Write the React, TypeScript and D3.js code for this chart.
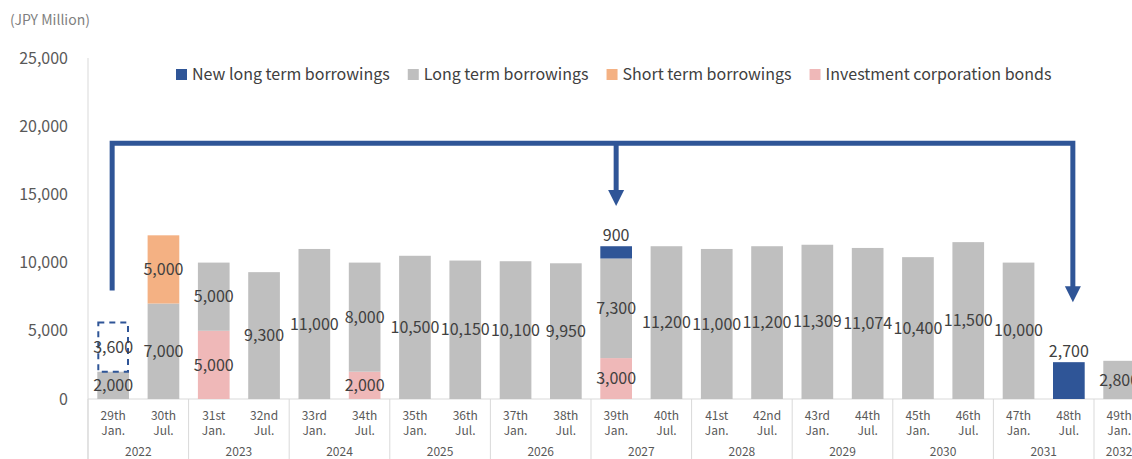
import { useEffect, useRef } from 'react';
import * as d3 from 'd3';

const periods = ['29th', '30th', '31st', '32nd', '33rd', '34th', '35th', '36th', '37th', '38th', '39th', '40th', '41st', '42nd', '43rd', '44th', '45th', '46th', '47th', '48th', '49th'];
const halves = ['Jan.', 'Jul.', 'Jan.', 'Jul.', 'Jan.', 'Jul.', 'Jan.', 'Jul.', 'Jan.', 'Jul.', 'Jan.', 'Jul.', 'Jan.', 'Jul.', 'Jan.', 'Jul.', 'Jan.', 'Jul.', 'Jan.', 'Jul.', 'Jan.'];
const years = ['2022', '2022', '2023', '2023', '2024', '2024', '2025', '2025', '2026', '2026', '2027', '2027', '2028', '2028', '2029', '2029', '2030', '2030', '2031', '2031', '2032'];

const bonds = [0, 0, 5000, 0, 0, 2000, 0, 0, 0, 0, 3000, 0, 0, 0, 0, 0, 0, 0, 0, 0, 0];
const longTerm = [2000, 7000, 5000, 9300, 11000, 8000, 10500, 10150, 10100, 9950, 7300, 11200, 11000, 11200, 11309, 11074, 10400, 11500, 10000, 0, 2800];
const shortTerm = [0, 5000, 0, 0, 0, 0, 0, 0, 0, 0, 0, 0, 0, 0, 0, 0, 0, 0, 0, 0, 0];
const newLong = [0, 0, 0, 0, 0, 0, 0, 0, 0, 0, 900, 0, 0, 0, 0, 0, 0, 0, 0, 2700, 0];
const refinance = [3600, 0, 0, 0, 0, 0, 0, 0, 0, 0, 0, 0, 0, 0, 0, 0, 0, 0, 0, 0, 0];

const yTicks = [0, 5000, 10000, 15000, 20000, 25000];

const legendItems = [
  { name: 'New long term borrowings', color: '#2F5597' },
  { name: 'Long term borrowings', color: '#BFBFBF' },
  { name: 'Short term borrowings', color: '#F4B183' },
  { name: 'Investment corporation bonds', color: '#EFB8B8' },
];

const FONT = '"Noto Sans CJK JP", "Noto Sans", sans-serif';
const BLUE = '#2F5597';

export default function App() {
  const svgRef = useRef<SVGSVGElement>(null);
  const width = 1132;
  const height = 459;

  useEffect(() => {
    const svg = d3.select(svgRef.current);
    svg.selectAll('*').remove();

    const left = 88;
    const step = 50.3;
    const x = d3.scaleBand<string>()
      .domain(periods)
      .range([left, left + step * periods.length])
      .paddingInner(0.37)
      .paddingOuter(0.185);
    const y = d3.scaleLinear().domain([0, 25000]).range([399, 58]);
    const cx = (p: string) => (x(p) as number) + x.bandwidth() / 2;
    const gap = (x.step() - x.bandwidth()) / 2;

    svg.attr('font-family', FONT);

    // unit label
    svg.append('text')
      .attr('x', 10).attr('y', 20)
      .attr('dy', '0.35em')
      .attr('fill', '#7F7F7F')
      .attr('font-size', 14)
      .text('(JPY Million)');

    // y tick labels
    svg.append('g').selectAll('text')
      .data(yTicks)
      .enter().append('text')
      .attr('x', 68)
      .attr('y', d => y(d))
      .attr('dy', '0.35em')
      .attr('text-anchor', 'end')
      .attr('fill', '#595959')
      .attr('font-size', 16)
      .text(d => d3.format(',')(d));

    // axis lines
    svg.append('line')
      .attr('x1', left).attr('x2', left)
      .attr('y1', y(25000)).attr('y2', height)
      .attr('stroke', '#D9D9D9');
    svg.append('line')
      .attr('x1', left).attr('x2', width)
      .attr('y1', y(0)).attr('y2', y(0))
      .attr('stroke', '#D9D9D9');

    // year separators
    const yearStarts = periods.filter((_, i) => i === 0 || years[i] !== years[i - 1]);
    svg.append('g').selectAll('line')
      .data(yearStarts)
      .enter().append('line')
      .attr('x1', d => (x(d) as number) - gap)
      .attr('x2', d => (x(d) as number) - gap)
      .attr('y1', y(0)).attr('y2', height)
      .attr('stroke', '#D9D9D9');

    // period labels
    const tick = svg.append('g').selectAll('g')
      .data(periods)
      .enter().append('g')
      .attr('font-size', 12)
      .attr('fill', '#595959')
      .attr('text-anchor', 'middle');
    tick.append('text')
      .attr('x', d => cx(d)).attr('y', 416).attr('dy', '0.35em')
      .text(d => d);
    tick.append('text')
      .attr('x', d => cx(d)).attr('y', 431).attr('dy', '0.35em')
      .text((_, i) => halves[i]);

    // year labels
    const yearGroups = d3.groups(periods.map((p, i) => ({ p, yr: years[i] })), d => d.yr);
    svg.append('g').selectAll('text')
      .data(yearGroups)
      .enter().append('text')
      .attr('x', d => {
        const first = d[1][0].p;
        const last = d[1][d[1].length - 1].p;
        return (cx(first) + cx(last)) / 2;
      })
      .attr('y', 451.5).attr('dy', '0.35em')
      .attr('text-anchor', 'middle')
      .attr('font-size', 12)
      .attr('fill', '#595959')
      .text(d => d[0]);

    // stacked bars
    const series = [
      { key: 'bonds', values: bonds, color: '#EFB8B8' },
      { key: 'long', values: longTerm, color: '#BFBFBF' },
      { key: 'short', values: shortTerm, color: '#F4B183' },
      { key: 'new', values: newLong, color: BLUE },
    ];
    const table = periods.map((p, i) => {
      const row: any = { period: p };
      series.forEach(s => { row[s.key] = s.values[i]; });
      return row;
    });
    const stacked = d3.stack<any>().keys(series.map(s => s.key))(table);

    const barG = svg.append('g');
    stacked.forEach((layer, li) => {
      barG.append('g')
        .attr('fill', series[li].color)
        .selectAll('rect')
        .data(layer.filter(d => d[1] - d[0] > 0))
        .enter().append('rect')
        .attr('x', d => x(d.data.period) as number)
        .attr('width', x.bandwidth())
        .attr('y', d => y(d[1]))
        .attr('height', d => y(d[0]) - y(d[1]));
    });

    // dashed refinance box on top of the stack
    const totals = table.map(r => series.reduce((a, s) => a + r[s.key], 0));
    const dash = periods.map((p, i) => ({ p, base: totals[i], v: refinance[i] })).filter(d => d.v > 0);
    barG.append('g').selectAll('rect')
      .data(dash)
      .enter().append('rect')
      .attr('x', d => (x(d.p) as number) + 1)
      .attr('width', x.bandwidth() - 2)
      .attr('y', d => y(d.base + d.v))
      .attr('height', d => y(d.base) - y(d.base + d.v))
      .attr('fill', 'none')
      .attr('stroke', BLUE)
      .attr('stroke-width', 2)
      .attr('stroke-dasharray', '6,5');

    // data labels
    const labelG = svg.append('g')
      .attr('font-size', 16)
      .attr('fill', '#404040')
      .attr('text-anchor', 'middle');
    stacked.forEach((layer, li) => {
      const isNew = series[li].key === 'new';
      labelG.append('g').selectAll('text')
        .data(layer.filter(d => d[1] - d[0] > 0))
        .enter().append('text')
        .attr('x', d => cx(d.data.period))
        .attr('y', d => isNew ? y(d[1]) - 11 : y((d[0] + d[1]) / 2))
        .attr('dy', '0.35em')
        .text(d => d3.format(',')(d[1] - d[0]));
    });
    labelG.append('g').selectAll('text')
      .data(dash)
      .enter().append('text')
      .attr('x', d => cx(d.p))
      .attr('y', d => y(d.base + d.v / 2))
      .attr('dy', '0.35em')
      .text(d => d3.format(',')(d.v));

    // refinancing arrows
    const arrowG = svg.append('g');
    const xL = cx('29th') - 1;
    const xM = cx('39th');
    const xR = cx('48th') + 4;
    const yTop = y(18750);
    const head = 16;
    arrowG.append('path')
      .attr('d', `M${xL},${y(7950)} V${yTop} H${xR} V${y(7100) - head + 1}`)
      .attr('fill', 'none')
      .attr('stroke', BLUE)
      .attr('stroke-width', 5);
    arrowG.append('path')
      .attr('d', `M${xM},${yTop} V${y(14150) - head + 1}`)
      .attr('fill', 'none')
      .attr('stroke', BLUE)
      .attr('stroke-width', 5);
    [[xM, y(14150)], [xR, y(7100)]].forEach(([ax, ay]) => {
      arrowG.append('path')
        .attr('d', `M${ax - 8},${ay - head} L${ax + 8},${ay - head} L${ax},${ay} Z`)
        .attr('fill', BLUE);
    });

    // legend
    const legend = svg.append('g').attr('font-size', 16).attr('fill', '#404040');
    let lx = 176;
    legendItems.forEach(item => {
      legend.append('rect')
        .attr('x', lx).attr('y', 69)
        .attr('width', 11).attr('height', 11)
        .attr('fill', item.color);
      const t = legend.append('text')
        .attr('x', lx + 16).attr('y', 74)
        .attr('dy', '0.35em')
        .text(item.name);
      const w = (t.node() as SVGTextElement).getComputedTextLength();
      lx += 16 + w + 18;
    });
  }, []);

  return (
    <div style={{ position: 'absolute', left: 0, top: 0, width, height, background: '#fff' }}>
      <svg ref={svgRef} width={width} height={height} style={{ display: 'block' }}></svg>
    </div>
  );
}
